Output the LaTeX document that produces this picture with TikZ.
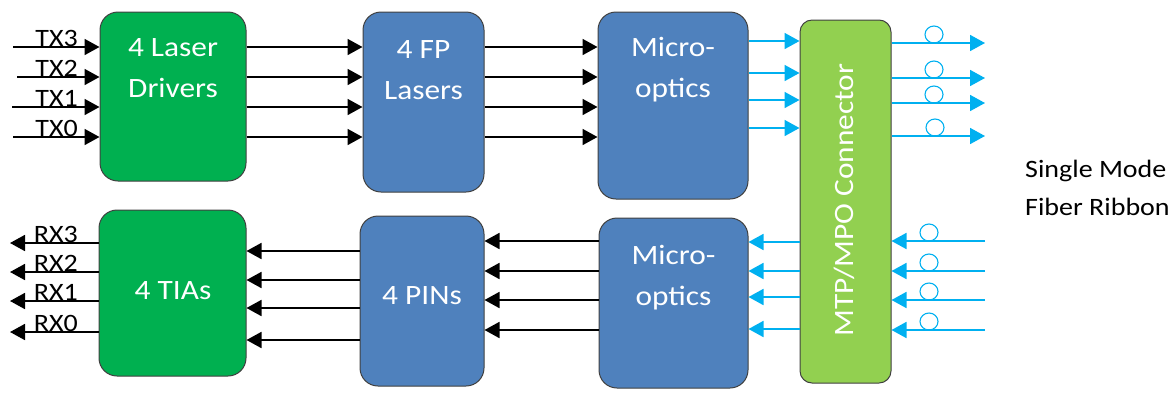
\documentclass[tikz,border=0pt]{standalone}
\usepackage{fontspec}
\setmainfont{Carlito}[FakeStretch=1.12]
\usetikzlibrary{arrows.meta,shapes.geometric}
\definecolor{drvgreen}{HTML}{00B050}
\definecolor{mpogreen}{HTML}{92D050}
\definecolor{chipblue}{HTML}{4F81BD}
\definecolor{fiberblue}{HTML}{00B0F0}
\definecolor{rim}{HTML}{404040}
\begin{document}
\begin{tikzpicture}[x=1pt, y=1pt,
  block/.style={shape=rectangle, rounded corners=18pt, draw=rim, line width=1pt, inner sep=0pt},
  wire/.style={-{Triangle[length=15pt,width=16pt]}, line width=1.8pt, draw=black},
  fiber/.style={-{Triangle[length=15pt,width=16pt]}, line width=1.8pt, draw=fiberblue},
  loop/.style={shape=ellipse, draw=fiberblue, line width=1.1pt, minimum width=18pt, minimum height=17pt, inner sep=0pt},
  boxtext/.style={text=white, font=\fontsize{28}{41}\selectfont, align=center, inner sep=0pt, anchor=base},
  sig/.style={font=\fontsize{25}{30}\selectfont, inner sep=0pt, anchor=base east}]
\useasboundingbox (0,0) rectangle (1174,-392);
% blocks
\node[block, fill=drvgreen, minimum width=146pt, minimum height=169pt] (drv) at (173,-96.5) {};
\node[block, fill=chipblue, minimum width=121pt, minimum height=180pt] (fp) at (423.5,-102) {};
\node[block, fill=chipblue, minimum width=150pt, minimum height=187pt] (mot) at (673,-105.5) {};
\node[block, fill=mpogreen, rounded corners=12pt, minimum width=91pt, minimum height=363pt] (mpo) at (845.5,-201.5) {};
\node[block, fill=chipblue, minimum width=149pt, minimum height=170pt] (mob) at (673.5,-303) {};
\node[block, fill=chipblue, minimum width=124pt, minimum height=170pt] (pin) at (422,-301) {};
\node[block, fill=drvgreen, minimum width=147pt, minimum height=166pt] (tia) at (172.5,-293) {};
% block texts (base = last line)
\node[boxtext] (drvt) at (173,-97) {4 Laser\\Drivers};
\node[boxtext] (fpt) at (423.5,-99) {4 FP\\Lasers};
\node[boxtext] (mott) at (673,-97) {Micro-\\optics};
\node[boxtext, rotate=90] (mpot) at (853,-200) {MTP/MPO Connector};
\node[boxtext] (mobt) at (673.5,-305) {Micro-\\optics};
\node[boxtext] (pint) at (422,-304) {4 PINs};
\node[boxtext] (tiat) at (173,-299) {4 TIAs};
\node[font=\fontsize{25}{38}\selectfont, align=left, inner sep=0pt, anchor=base west] (smf) at (1025,-215) {Single Mode\\Fiber Ribbon};
% free ends
\coordinate (tx3) at (13,-47);
\coordinate (tx2) at (17,-77);
\coordinate (tx1) at (12,-107);
\coordinate (tx0) at (13,-137);
\coordinate (ta3) at (748,-41);
\coordinate (ta2) at (748,-73);
\coordinate (ta1) at (748,-100);
\coordinate (ta0) at (748,-128);
\coordinate (to3) at (985,-43);
\coordinate (to2) at (985,-78);
\coordinate (to1) at (985,-103);
\coordinate (to0) at (985,-136);
\coordinate (ri3) at (985,-241);
\coordinate (ri2) at (985,-271);
\coordinate (ri1) at (985,-300);
\coordinate (ri0) at (985,-330);
\coordinate (rb3) at (800,-242);
\coordinate (rb2) at (800,-271);
\coordinate (rb1) at (800,-297);
\coordinate (rb0) at (800,-329);
\coordinate (pt3) at (360,-251);
\coordinate (pt2) at (360,-280);
\coordinate (pt1) at (360,-308);
\coordinate (pt0) at (360,-340);
\coordinate (rx3) at (10,-243);
\coordinate (rx2) at (10,-272);
\coordinate (rx1) at (10,-301);
\coordinate (rx0) at (10,-332);
% signal names
\node[sig] (TX3) at (78,-46) {TX3};
\node[sig] (TX2) at (78,-76) {TX2};
\node[sig] (TX1) at (78,-106) {TX1};
\node[sig] (TX0) at (78,-136) {TX0};
\node[sig] (RX3) at (78,-242) {RX3};
\node[sig] (RX2) at (78,-271) {RX2};
\node[sig] (RX1) at (78,-300) {RX1};
\node[sig] (RX0) at (78,-331) {RX0};
% fiber loops
\node[loop] (o1) at (934,-34.5) {};
\node[loop] (o2) at (934,-69.5) {};
\node[loop] (o3) at (934,-94.5) {};
\node[loop] (o4) at (935,-127.5) {};
\node[loop] (o5) at (929,-232.5) {};
\node[loop] (o6) at (929,-262.5) {};
\node[loop] (o7) at (929,-291.5) {};
\node[loop] (o8) at (929,-321.5) {};
% transmit side
\path (tx3) edge[wire] (tx3 -| drv.west);
\path (tx2) edge[wire] (tx2 -| drv.west);
\path (tx1) edge[wire] (tx1 -| drv.west);
\path (tx0) edge[wire] (tx0 -| drv.west);
\path (tx3 -| drv.east) edge[wire] (tx3 -| fp.west);
\path (tx2 -| drv.east) edge[wire] (tx2 -| fp.west);
\path (tx1 -| drv.east) edge[wire] (tx1 -| fp.west);
\path (tx0 -| drv.east) edge[wire] (tx0 -| fp.west);
\path (tx3 -| fp.east) edge[wire] (tx3 -| mot.west);
\path (tx2 -| fp.east) edge[wire] (tx2 -| mot.west);
\path (tx1 -| fp.east) edge[wire] (tx1 -| mot.west);
\path (tx0 -| fp.east) edge[wire] (tx0 -| mot.west);
\path (ta3 -| mot.east) edge[fiber] (ta3 -| mpo.west);
\path (ta2 -| mot.east) edge[fiber] (ta2 -| mpo.west);
\path (ta1 -| mot.east) edge[fiber] (ta1 -| mpo.west);
\path (ta0 -| mot.east) edge[fiber] (ta0 -| mpo.west);
\path (to3 -| mpo.east) edge[fiber] (to3);
\path (to2 -| mpo.east) edge[fiber] (to2);
\path (to1 -| mpo.east) edge[fiber] (to1);
\path (to0 -| mpo.east) edge[fiber] (to0);
% receive side
\path (ri3) edge[fiber] (ri3 -| mpo.east);
\path (ri2) edge[fiber] (ri2 -| mpo.east);
\path (ri1) edge[fiber] (ri1 -| mpo.east);
\path (ri0) edge[fiber] (ri0 -| mpo.east);
\path (rb3 -| mpo.west) edge[fiber] (rb3 -| mob.east);
\path (rb2 -| mpo.west) edge[fiber] (rb2 -| mob.east);
\path (rb1 -| mpo.west) edge[fiber] (rb1 -| mob.east);
\path (rb0 -| mpo.west) edge[fiber] (rb0 -| mob.east);
\path (ri3 -| mob.west) edge[wire] (ri3 -| pin.east);
\path (ri2 -| mob.west) edge[wire] (ri2 -| pin.east);
\path (ri1 -| mob.west) edge[wire] (ri1 -| pin.east);
\path (ri0 -| mob.west) edge[wire] (ri0 -| pin.east);
\path (pt3 -| pin.west) edge[wire] (pt3 -| tia.east);
\path (pt2 -| pin.west) edge[wire] (pt2 -| tia.east);
\path (pt1 -| pin.west) edge[wire] (pt1 -| tia.east);
\path (pt0 -| pin.west) edge[wire] (pt0 -| tia.east);
\path (rx3 -| tia.west) edge[wire] (rx3);
\path (rx2 -| tia.west) edge[wire] (rx2);
\path (rx1 -| tia.west) edge[wire] (rx1);
\path (rx0 -| tia.west) edge[wire] (rx0);
\end{tikzpicture}
\end{document}
